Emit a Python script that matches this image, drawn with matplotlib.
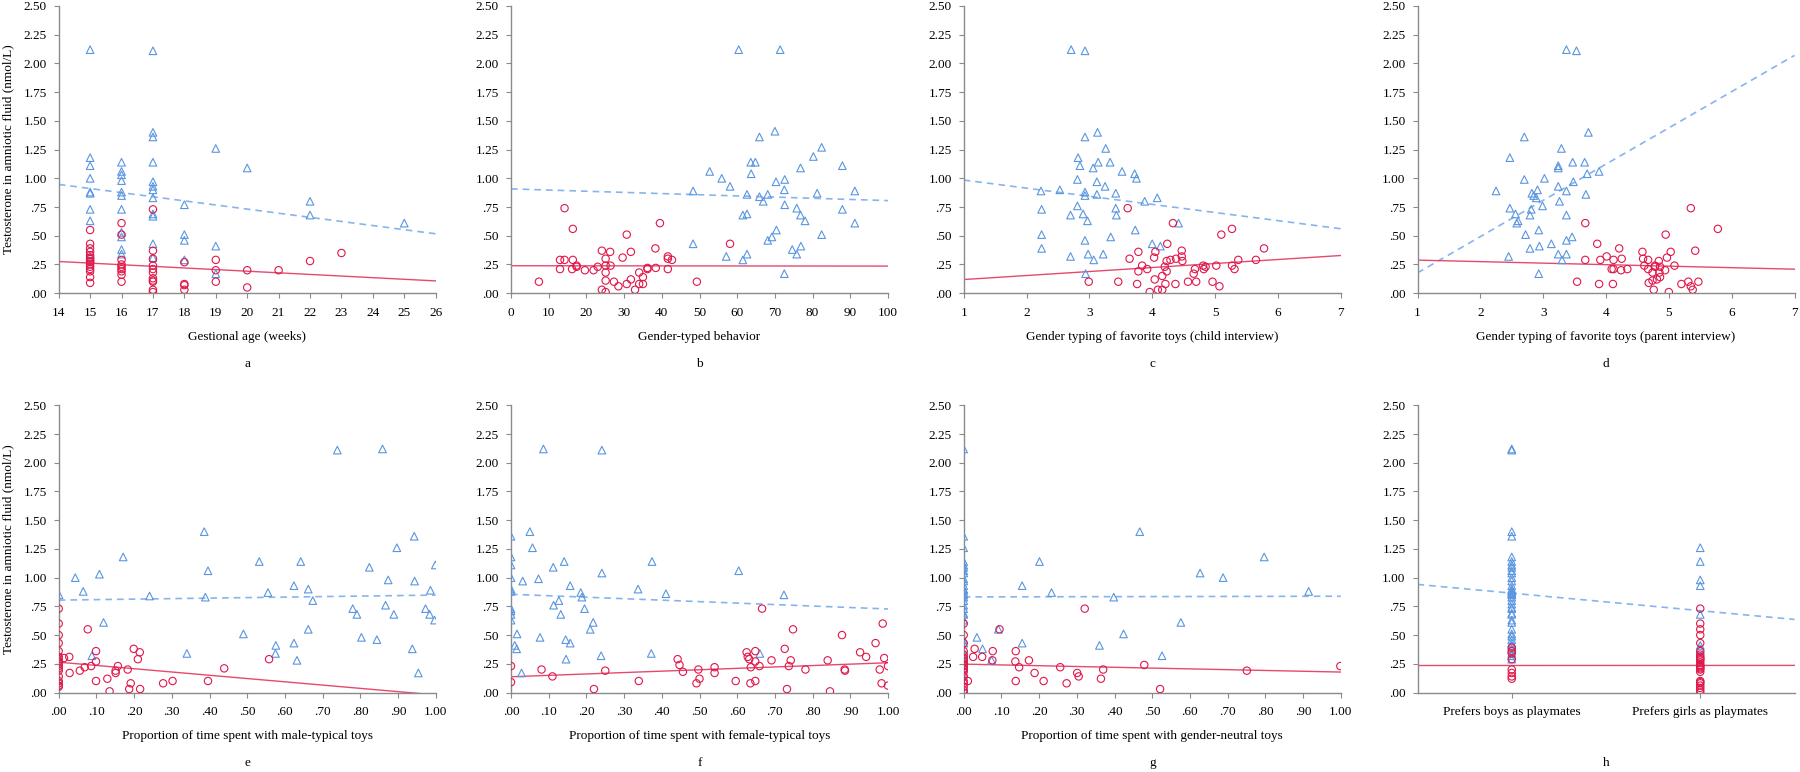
import numpy as np
import matplotlib
matplotlib.use('Agg')
import matplotlib.pyplot as plt

plt.rcParams['font.family'] = ['Liberation Serif', 'DejaVu Serif']

# ---- a: gestational age ----
a_boys_x = [15, 15, 15, 15, 15, 15, 15, 15, 15,
            16, 16, 16, 16, 16, 16, 16, 16, 16, 16, 16,
            17, 17, 17, 17, 17, 17, 17, 17, 17, 17, 17, 17,
            18, 18, 18, 18, 19, 19, 19, 20, 22, 22, 25]
a_boys_y = [2.12, 1.18, 1.11, 1.00, 0.88, 0.87, 0.73, 0.63, 0.32,
            1.14, 1.06, 1.03, 0.98, 0.88, 0.85, 0.73, 0.53, 0.49, 0.38, 0.34,
            2.11, 1.40, 1.36, 1.14, 0.97, 0.93, 0.90, 0.83, 0.69, 0.67, 0.43, 0.31,
            0.77, 0.51, 0.46, 0.29, 1.26, 0.41, 0.17, 1.09, 0.80, 0.68, 0.61]
a_girls_x = [15, 15, 15, 15, 15, 15, 15, 15, 15, 15, 15, 15, 15, 15, 15,
             16, 16, 16, 16, 16, 16, 16, 16, 16,
             17, 17, 17, 17, 17, 17, 17, 17, 17, 17, 17,
             18, 18, 18, 18, 19, 19, 19, 20, 20, 21, 22, 23]
a_girls_y = [0.55, 0.43, 0.39, 0.36, 0.33, 0.31, 0.30, 0.28, 0.27, 0.25, 0.23, 0.21, 0.19, 0.14, 0.09,
             0.61, 0.51, 0.29, 0.25, 0.23, 0.21, 0.19, 0.16, 0.10,
             0.73, 0.37, 0.30, 0.24, 0.21, 0.18, 0.13, 0.11, 0.10, 0.03, 0.01,
             0.27, 0.08, 0.07, 0.03, 0.29, 0.20, 0.10, 0.20, 0.05, 0.20, 0.28, 0.35]
a_fit_boys = [0.947, 0.517]
a_fit_girls = [0.276, 0.107]

# ---- b: gender-typed behavior ----
b_boys_x = [60.4, 71.4, 65.9, 70.0, 82.4, 80.2, 63.6, 64.8, 87.9, 76.8, 52.7, 63.7, 55.9, 70.3,
            72.6, 58.1, 48.3, 72.5, 91.2, 62.6, 65.9, 68.1, 81.2, 66.9, 72.6, 75.8, 87.9, 61.5,
            62.6, 76.8, 78.0, 91.2, 70.4, 82.4, 69.2, 68.1, 48.3, 76.9, 74.6, 57.1, 62.6, 75.8,
            61.5, 72.5]
b_boys_y = [2.12, 2.12, 1.36, 1.41, 1.27, 1.19, 1.14, 1.14, 1.11, 1.09, 1.06, 1.04, 1.00, 0.97,
            0.99, 0.93, 0.89, 0.90, 0.89, 0.86, 0.84, 0.86, 0.87, 0.80, 0.77, 0.74, 0.73, 0.68,
            0.69, 0.68, 0.63, 0.61, 0.55, 0.51, 0.49, 0.46, 0.43, 0.41, 0.38, 0.32, 0.34, 0.34,
            0.29, 0.17]
b_girls_x = [7.4, 14.2, 16.4, 13.0, 14.2, 16.4, 13.0, 16.2, 17.4, 17.4, 19.6, 21.9, 23.0, 24.1,
             25.1, 25.1, 25.1, 25.1, 24.1, 25.1, 26.3, 26.4, 27.3, 28.5, 29.6, 30.7, 30.7, 31.8,
             31.8, 32.9, 34.0, 34.0, 35.0, 35.0, 36.2, 36.2, 38.3, 38.4, 39.5, 41.6, 41.6, 41.6,
             42.7, 49.3, 58.1]
b_girls_y = [0.10, 0.74, 0.56, 0.29, 0.29, 0.29, 0.21, 0.21, 0.24, 0.23, 0.20, 0.20, 0.23, 0.37,
             0.30, 0.24, 0.18, 0.11, 0.03, 0.01, 0.36, 0.24, 0.10, 0.06, 0.31, 0.51, 0.08, 0.36,
             0.12, 0.03, 0.18, 0.08, 0.14, 0.08, 0.22, 0.21, 0.39, 0.22, 0.61, 0.32, 0.30, 0.21,
             0.29, 0.10, 0.43]
b_fit_boys = [0.908, 0.806]
b_fit_girls = [0.239, 0.236]

# ---- c: favorite toys, child interview ----
c_boys_x = [2.71, 2.93, 3.13, 2.93, 3.26, 2.82, 2.85, 3.14, 3.33, 3.06, 3.52, 3.72, 3.75, 2.81,
            3.12, 3.25, 2.23, 2.53, 2.93, 2.93, 3.12, 3.42, 3.88, 4.08, 2.81, 2.24, 3.42, 2.70,
            2.90, 3.43, 2.97, 4.42, 3.73, 2.24, 3.34, 2.93, 4.00, 4.13, 2.24, 2.70, 2.98, 3.22,
            3.07, 2.94]
c_boys_y = [2.12, 2.11, 1.40, 1.36, 1.26, 1.18, 1.11, 1.14, 1.14, 1.09, 1.06, 1.04, 1.00, 0.99,
            0.97, 0.93, 0.89, 0.90, 0.88, 0.85, 0.86, 0.87, 0.80, 0.83, 0.76, 0.73, 0.74, 0.68,
            0.69, 0.68, 0.63, 0.61, 0.55, 0.51, 0.49, 0.46, 0.43, 0.41, 0.39, 0.32, 0.34, 0.34,
            0.29, 0.17]
c_girls_x = [3.61, 4.33, 5.27, 5.10, 4.24, 5.78, 3.78, 4.05, 4.47, 3.64, 4.03, 4.47, 4.38, 4.29,
             4.23, 4.48, 5.37, 5.65, 3.84, 3.92, 3.78, 4.20, 4.23, 4.81, 4.68, 4.66, 4.85, 4.82,
             5.02, 5.27, 5.31, 2.99, 3.46, 3.76, 4.04, 4.16, 4.21, 4.37, 4.57, 4.70, 4.96, 5.07,
             3.96, 4.09, 4.16]
c_girls_y = [0.74, 0.61, 0.56, 0.51, 0.43, 0.39, 0.36, 0.36, 0.37, 0.30, 0.31, 0.32, 0.30, 0.29,
             0.28, 0.28, 0.29, 0.29, 0.24, 0.21, 0.19, 0.23, 0.19, 0.24, 0.21, 0.17, 0.23, 0.21,
             0.24, 0.24, 0.21, 0.10, 0.10, 0.08, 0.12, 0.15, 0.08, 0.08, 0.10, 0.10, 0.10, 0.06,
             0.01, 0.03, 0.03]
c_fit_boys = [0.985, 0.561]
c_fit_girls = [0.119, 0.328]

# ---- d: favorite toys, parent interview ----
d_boys_x = [3.37, 3.53, 2.70, 3.72, 3.29, 2.47, 3.47, 3.66, 3.24, 3.24, 3.89, 3.70, 3.02, 2.70,
            3.48, 3.24, 2.25, 2.91, 3.37, 2.82, 2.85, 3.68, 2.89, 3.26, 2.99, 2.47, 2.81, 2.56,
            2.79, 3.37, 2.60, 2.58, 2.93, 2.72, 3.46, 3.37, 3.13, 2.94, 2.79, 2.45, 3.24, 3.37,
            3.30, 2.93]
d_boys_y = [2.12, 2.11, 1.36, 1.40, 1.26, 1.18, 1.14, 1.14, 1.11, 1.09, 1.06, 1.04, 1.00, 0.99,
            0.97, 0.93, 0.89, 0.90, 0.89, 0.87, 0.85, 0.86, 0.83, 0.80, 0.76, 0.74, 0.73, 0.69,
            0.68, 0.68, 0.63, 0.61, 0.55, 0.51, 0.49, 0.46, 0.43, 0.41, 0.39, 0.32, 0.34, 0.34,
            0.29, 0.17]
d_girls_x = [5.35, 3.67, 5.78, 4.95, 3.86, 4.21, 4.58, 5.03, 5.42, 4.01, 4.59, 4.97, 3.67, 3.91,
             4.12, 4.25, 4.67, 4.84, 5.09, 4.61, 4.78, 4.78, 4.86, 4.09, 4.12, 4.34, 4.24, 4.67,
             4.94, 4.74, 4.85, 4.86, 4.81, 3.54, 4.74, 5.31, 5.47, 4.68, 3.89, 4.11, 5.20, 5.35,
             4.76, 5.38, 5.00]
d_girls_y = [0.74, 0.61, 0.56, 0.51, 0.43, 0.39, 0.36, 0.36, 0.37, 0.32, 0.30, 0.31, 0.29, 0.29,
             0.29, 0.30, 0.29, 0.28, 0.24, 0.24, 0.24, 0.23, 0.23, 0.21, 0.21, 0.21, 0.20, 0.21,
             0.20, 0.18, 0.18, 0.14, 0.12, 0.10, 0.11, 0.10, 0.10, 0.09, 0.08, 0.08, 0.08, 0.06,
             0.03, 0.03, 0.01]
d_fit_boys = [0.177, 2.07]
d_fit_girls = [0.288, 0.209]

# ---- e: male-typical toys ----
e_boys_x = [0.739, 0.859, 0.386, 0.943, 0.897, 0.171, 0.532, 0.642, 0.999, 0.824, 0.396, 0.108,
            0.044, 0.874, 0.944, 0.624, 0.065, 0.662, 0.986, 0.001, 0.555, 0.241, 0.389, 0.674,
            0.867, 0.780, 0.973, 0.791, 0.889, 0.984, 0.997, 0.119, 0.662, 0.490, 0.803, 0.844,
            0.624, 0.576, 0.938, 0.340, 0.575, 0.088, 0.632, 0.954]
e_boys_y = [2.11, 2.12, 1.40, 1.36, 1.26, 1.18, 1.14, 1.14, 1.11, 1.09, 1.06, 1.03, 1.00, 0.98,
            0.97, 0.93, 0.88, 0.90, 0.89, 0.85, 0.87, 0.84, 0.83, 0.80, 0.76, 0.73, 0.73, 0.68,
            0.68, 0.68, 0.63, 0.61, 0.55, 0.51, 0.48, 0.46, 0.43, 0.41, 0.38, 0.34, 0.34, 0.32,
            0.28, 0.17]
e_girls_x = [0.0, 0.0, 0.0, 0.0, 0.0, 0.0, 0.0, 0.0, 0.0, 0.0, 0.0, 0.0, 0.0, 0.0, 0.0, 0.0, 0.0,
             0.077, 0.028, 0.014, 0.029, 0.056, 0.069, 0.086, 0.099, 0.099, 0.099, 0.129, 0.135,
             0.151, 0.157, 0.151, 0.183, 0.199, 0.215, 0.210, 0.191, 0.187, 0.216, 0.277, 0.302,
             0.396, 0.439, 0.558]
e_girls_y = [0.73, 0.60, 0.50, 0.43, 0.36, 0.31, 0.29, 0.27, 0.25, 0.23, 0.21, 0.19, 0.14, 0.10,
             0.08, 0.06, 0.05,
             0.55, 0.31, 0.30, 0.17, 0.19, 0.22, 0.23, 0.36, 0.27, 0.10, 0.12, 0.01,
             0.19, 0.23, 0.17, 0.20, 0.38, 0.35, 0.29, 0.08, 0.03, 0.03, 0.08, 0.10,
             0.10, 0.21, 0.29]
e_fit_boys = [0.804, 0.848]
e_fit_girls = [0.264, -0.021]

# ---- f: female-typical toys ----
f_boys_x = [0.0, 0.0, 0.0, 0.0, 0.0, 0.0, 0.0, 0.0, 0.0, 0.0,
            0.086, 0.241, 0.050, 0.057, 0.141, 0.374, 0.112, 0.241, 0.604, 0.073, 0.031, 0.157,
            0.337, 0.185, 0.188, 0.411, 0.724, 0.127, 0.113, 0.195, 0.132, 0.218, 0.210, 0.016,
            0.077, 0.145, 0.157, 0.010, 0.015, 0.239, 0.372, 0.660, 0.146, 0.028]
f_boys_y = [1.36, 1.18, 1.11, 1.00, 0.90, 0.88, 0.73, 0.71, 0.68, 0.63,
            2.12, 2.11, 1.40, 1.26, 1.14, 1.14, 1.09, 1.04, 1.06, 0.99, 0.97, 0.93,
            0.90, 0.87, 0.83, 0.86, 0.85, 0.80, 0.76, 0.73, 0.68, 0.61, 0.55, 0.51,
            0.48, 0.46, 0.43, 0.41, 0.38, 0.32, 0.34, 0.34, 0.29, 0.17]
f_girls_x = [0.0, 0.0, 0.081, 0.110, 0.220, 0.250, 0.339, 0.442, 0.447, 0.456, 0.492, 0.497,
             0.500, 0.540, 0.540, 0.596, 0.625, 0.628, 0.632, 0.648, 0.648, 0.636, 0.659, 0.635,
             0.648, 0.666, 0.691, 0.726, 0.742, 0.737, 0.732, 0.748, 0.781, 0.840, 0.846, 0.878,
             0.885, 0.886, 0.926, 0.942, 0.967, 0.986, 0.990, 0.978, 0.983, 1.0, 1.0]
f_girls_y = [0.23, 0.09, 0.20, 0.14, 0.03, 0.19, 0.10, 0.29, 0.24, 0.18, 0.08, 0.20,
             0.12, 0.22, 0.17, 0.10, 0.35, 0.31, 0.29, 0.36, 0.27, 0.22, 0.23, 0.08,
             0.10, 0.73, 0.28, 0.38, 0.28, 0.23, 0.03, 0.55, 0.20, 0.28, 0.01, 0.50,
             0.20, 0.19, 0.35, 0.31, 0.43, 0.60, 0.30, 0.20, 0.08, 0.23, 0.06]
f_fit_boys = [0.855, 0.727]
f_fit_girls = [0.137, 0.259]

# ---- g: gender-neutral toys ----
g_boys_x = [0.0, 0.0, 0.0, 0.0, 0.0, 0.0, 0.0, 0.0, 0.0, 0.0, 0.0, 0.0, 0.0, 0.0, 0.0, 0.0,
            0.0, 0.0, 0.0, 0.0, 0.0, 0.0, 0.0, 0.0, 0.0, 0.0, 0.0,
            0.467, 0.797, 0.201, 0.627, 0.688, 0.155, 0.233, 0.915, 0.398, 0.576, 0.092, 0.035,
            0.424, 0.050, 0.155, 0.360, 0.526, 0.074]
g_boys_y = [2.12, 1.36, 1.26, 1.14, 1.11, 1.09, 1.06, 1.04, 0.99, 0.97, 0.93, 0.90, 0.89, 0.87,
            0.85, 0.83, 0.80, 0.76, 0.73, 0.69, 0.68, 0.63, 0.46, 0.43, 0.34, 0.29, 0.17,
            1.40, 1.18, 1.14, 1.04, 1.00, 0.93, 0.87, 0.88, 0.83, 0.61, 0.55, 0.48,
            0.51, 0.38, 0.43, 0.41, 0.32, 0.28]
g_girls_x = [0.0, 0.0, 0.0, 0.0, 0.0, 0.0, 0.0, 0.0, 0.0, 0.0, 0.0, 0.0, 0.0, 0.0, 0.0, 0.0,
             0.0, 0.0, 0.0,
             0.095, 0.321, 0.029, 0.025, 0.049, 0.077, 0.076, 0.138, 0.137, 0.147, 0.173, 0.188,
             0.138, 0.212, 0.256, 0.273, 0.301, 0.305, 0.364, 0.370, 0.479, 0.521, 0.751, 0.999,
             0.011]
g_girls_y = [0.60, 0.50, 0.43, 0.36, 0.33, 0.30, 0.29, 0.27, 0.25, 0.23, 0.21, 0.20, 0.18, 0.14,
             0.10, 0.08, 0.05, 0.02, 0.00,
             0.55, 0.73, 0.38, 0.31, 0.31, 0.36, 0.28, 0.36, 0.27, 0.22, 0.28, 0.17,
             0.10, 0.10, 0.22, 0.08, 0.17, 0.14, 0.12, 0.20, 0.24, 0.03, 0.19, 0.23,
             0.10]
g_fit_boys = [0.832, 0.838]
g_fit_girls = [0.247, 0.178]

# ---- h: playmate preference (1 = boys, 2 = girls) ----
h_categories = ['Prefers boys as playmates', 'Prefers girls as playmates']
h_boys_x = [1, 1, 1, 1, 1, 1, 1, 1, 1, 1, 1, 1, 1, 1, 1, 1, 1, 1, 1,
            1, 1, 1, 1, 1, 1, 1, 1, 1, 1, 1, 1, 1, 1, 1, 1, 1, 1, 1,
            2, 2, 2, 2, 2, 2, 2]
h_boys_y = [2.12, 2.11, 1.40, 1.36, 1.18, 1.14, 1.11, 1.09, 1.06, 1.04, 1.00, 0.97, 0.93, 0.90,
            0.89, 0.88, 0.87, 0.86, 0.85, 0.83, 0.80, 0.77, 0.74, 0.73, 0.69, 0.68, 0.63, 0.61,
            0.55, 0.51, 0.49, 0.46, 0.43, 0.41, 0.38, 0.34, 0.32, 0.29,
            1.26, 1.14, 0.98, 0.93, 0.68, 0.41, 0.38]
h_girls_x = [1, 1, 1, 1, 1, 1, 1, 1,
             2, 2, 2, 2, 2, 2, 2, 2, 2, 2, 2, 2, 2, 2, 2, 2, 2, 2, 2, 2, 2, 2, 2, 2, 2]
h_girls_y = [0.39, 0.36, 0.34, 0.29, 0.20, 0.17, 0.14, 0.12,
             0.73, 0.60, 0.55, 0.50, 0.43, 0.36, 0.33, 0.31, 0.30, 0.29, 0.28, 0.26, 0.24, 0.23,
             0.22, 0.21, 0.20, 0.18, 0.10, 0.09, 0.08, 0.06, 0.04, 0.02, 0.00]
h_fit_boys = [0.941, 0.636]
h_fit_girls = [0.235, 0.236]

y_ticks = [0, 0.25, 0.5, 0.75, 1.0, 1.25, 1.5, 1.75, 2.0, 2.25, 2.5]
prop_ticks = [0, 0.1, 0.2, 0.3, 0.4, 0.5, 0.6, 0.7, 0.8, 0.9, 1.0]


def fmt(v):
    s = f'{v:.2f}'
    return s[1:] if s.startswith('0') else s


panels = [
    (a_boys_x, a_boys_y, a_girls_x, a_girls_y, a_fit_boys, a_fit_girls, (14, 26),
     list(range(14, 27)), [str(v) for v in range(14, 27)], 'Gestional age (weeks)', 'a'),
    (b_boys_x, b_boys_y, b_girls_x, b_girls_y, b_fit_boys, b_fit_girls, (0, 100),
     list(range(0, 101, 10)), [str(v) for v in range(0, 101, 10)], 'Gender-typed behavior', 'b'),
    (c_boys_x, c_boys_y, c_girls_x, c_girls_y, c_fit_boys, c_fit_girls, (1, 7),
     list(range(1, 8)), [str(v) for v in range(1, 8)],
     'Gender typing of favorite toys (child interview)', 'c'),
    (d_boys_x, d_boys_y, d_girls_x, d_girls_y, d_fit_boys, d_fit_girls, (1, 7),
     list(range(1, 8)), [str(v) for v in range(1, 8)],
     'Gender typing of favorite toys (parent interview)', 'd'),
    (e_boys_x, e_boys_y, e_girls_x, e_girls_y, e_fit_boys, e_fit_girls, (0, 1),
     prop_ticks, [fmt(v) for v in prop_ticks], 'Proportion of time spent with male-typical toys', 'e'),
    (f_boys_x, f_boys_y, f_girls_x, f_girls_y, f_fit_boys, f_fit_girls, (0, 1),
     prop_ticks, [fmt(v) for v in prop_ticks], 'Proportion of time spent with female-typical toys', 'f'),
    (g_boys_x, g_boys_y, g_girls_x, g_girls_y, g_fit_boys, g_fit_girls, (0, 1),
     prop_ticks, [fmt(v) for v in prop_ticks], 'Proportion of time spent with gender-neutral toys', 'g'),
    (h_boys_x, h_boys_y, h_girls_x, h_girls_y, h_fit_boys, h_fit_girls, (0.5, 2.5),
     [1, 2], h_categories, '', 'h'),
]

blue = '#5a96e0'
red = '#e0184a'
axis_gray = '#8a8a8a'

fig = plt.figure(figsize=(18, 7.72), dpi=100)
lefts = [58.7, 511, 963.7, 1417.5]
tops = [6, 405.3]
w_px, h_px = 377, 287.2

for i, p in enumerate(panels):
    bx, by, gx, gy, fb, fg, xlim, xt, xtl, xlabel, letter = p
    row, col = divmod(i, 4)
    ax = fig.add_axes([lefts[col] / 1800, 1 - (tops[row] + h_px) / 772, w_px / 1800, h_px / 772])

    ax.scatter(bx, by, marker='^', s=30, facecolors='none', edgecolors=blue, linewidths=0.8, zorder=3)
    ax.scatter(gx, gy, marker='o', s=28, facecolors='none', edgecolors=red, linewidths=0.8, zorder=3)
    ax.plot(xlim, fb, color='#86b4ee', lw=1.2, linestyle=(0, (4, 3)), zorder=2)
    ax.plot(xlim, fg, color='#e54a6e', lw=1.0, zorder=2)

    ax.set_xlim(xlim)
    ax.set_ylim(0, 2.5)
    ax.set_yticks(y_ticks)
    ax.set_yticklabels([fmt(v) for v in y_ticks])
    ax.set_xticks(xt)
    ax.set_xticklabels(xtl)

    for s in ['top', 'right']:
        ax.spines[s].set_visible(False)
    for s in ['left', 'bottom']:
        ax.spines[s].set_color(axis_gray)
        ax.spines[s].set_linewidth(1.0)
    ax.tick_params(direction='out', length=3.6, width=0.8, color=axis_gray,
                   labelsize=9.5, pad=5)
    ax.tick_params(axis='x', pad=6)

    if xlabel:
        ax.set_xlabel(xlabel, fontsize=9.5)
        ax.xaxis.label.set_va('center')
        ax.xaxis.set_label_coords(0.5, -0.152)
    ax.text(0.5, -0.245, letter, transform=ax.transAxes, ha='center', va='center', fontsize=9.5)

    if col == 0:
        ax.set_ylabel('Testosterone in amniotic fluid (nmol/L)', fontsize=9.5)
        ax.yaxis.label.set_va('center')
        ax.yaxis.set_label_coords(-0.134, 0.5)

fig.savefig('out.png', dpi=100)
